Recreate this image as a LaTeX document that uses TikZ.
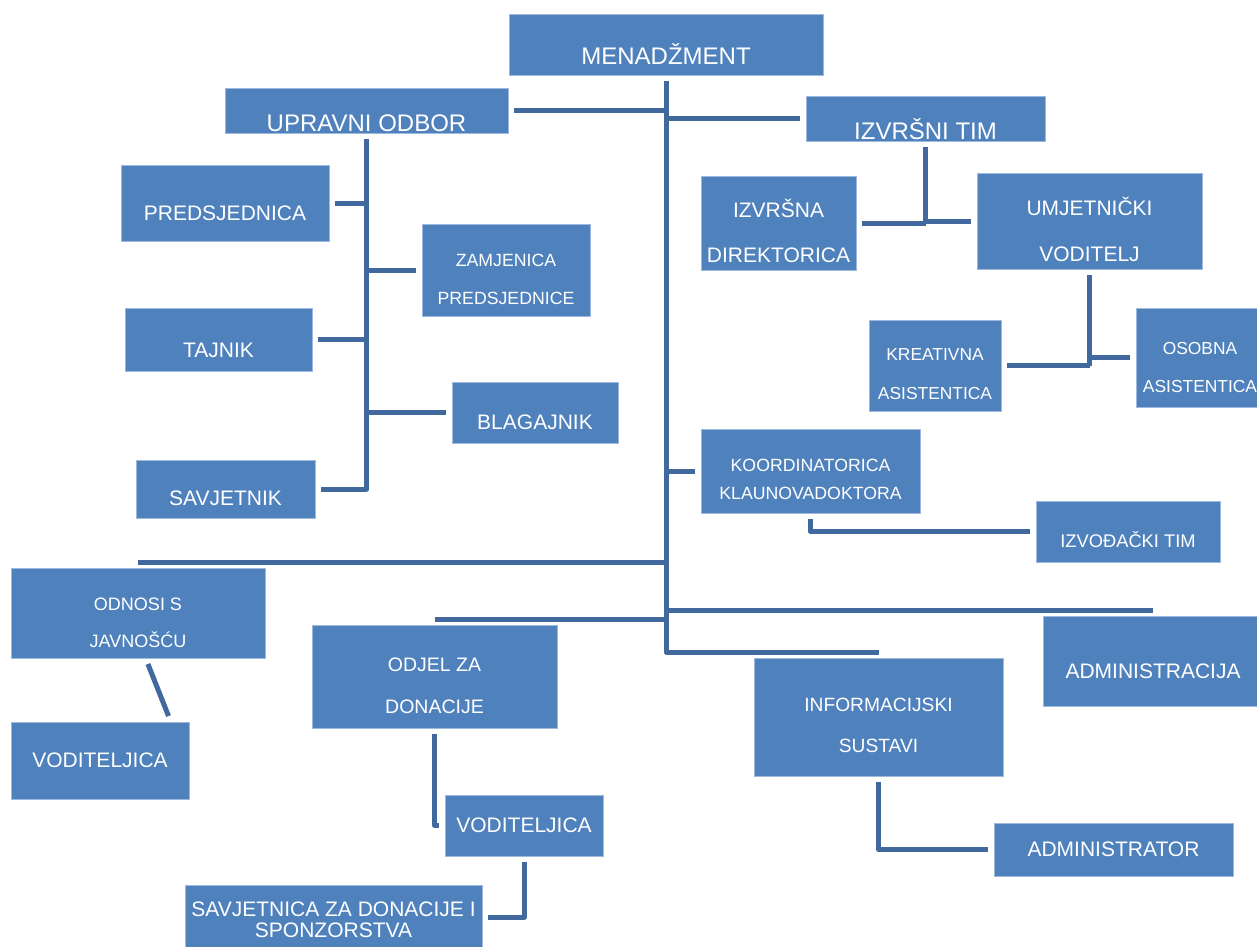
\documentclass[tikz,border=0pt]{standalone}
\usepackage{fontspec}
\setmainfont{Liberation Sans}
\definecolor{boxfill}{HTML}{4F81BD}
\definecolor{boxedge}{HTML}{9DB9DE}
\definecolor{linkcol}{HTML}{41699D}
\begin{document}
\begin{tikzpicture}[x=1pt,y=1pt,yscale=-1,
  box/.style={draw=boxedge,fill=boxfill,line width=0.8pt,text=white,align=center,inner sep=1pt,outer sep=6pt},
  fs/.style 2 args={font=\fontsize{#1}{#2}\selectfont},
  link/.style={draw=linkcol,line width=5pt,line join=round}]
\useasboundingbox (0,0) rectangle (1257,946);

% Boxes
\node (menad) at (666,44.5) [box,fs={24}{28},text height=40.2pt,minimum width=314pt,minimum height=61pt] {MENADŽMENT};
\node (upravni) at (366.5,110.5) [box,fs={24}{28},text height=42.2pt,minimum width=283pt,minimum height=45pt] {UPRAVNI ODBOR};
\node (izvtim) at (925.5,118.5) [box,fs={24}{28},text height=42.2pt,minimum width=239pt,minimum height=45pt] {IZVRŠNI TIM};
\node (predsj) at (225,203) [box,fs={21}{25},text height=35pt,minimum width=208pt,minimum height=76pt] {PREDSJEDNICA};
\node (zamj) at (506,270) [box,fs={17.7}{38},text height=68.7pt,minimum width=168pt,minimum height=92pt] {ZAMJENICA\\PREDSJEDNICE};
\node (tajnik) at (218.5,339.5) [box,fs={21}{25},text height=36pt,minimum width=187pt,minimum height=63pt] {TAJNIK};
\node (blag) at (535,412.5) [box,fs={21}{25},text height=34pt,minimum width=166pt,minimum height=61pt] {BLAGAJNIK};
\node (savjet) at (225.5,489) [box,fs={21}{25},text height=33pt,minimum width=179pt,minimum height=58pt] {SAVJETNIK};
\node (izvdir) at (778.5,223) [box,fs={21}{45},text height=80pt,minimum width=155pt,minimum height=94pt] {IZVRŠNA\\DIREKTORICA};
\node (umjet) at (1089.5,221) [box,fs={21}{46},text height=81pt,minimum width=225pt,minimum height=96pt] {UMJETNIČKI\\VODITELJ};
\node (kreat) at (935,365.5) [box,fs={17.4}{39},text height=67.5pt,minimum width=132pt,minimum height=91pt] {KREATIVNA\\ASISTENTICA};
\node (osobna) at (1200,357.5) [box,fs={17.4}{38},text height=69.5pt,minimum width=128pt,minimum height=99pt] {OSOBNA\\ASISTENTICA};
\node (koord) at (810.5,471) [box,fs={17.7}{28},text height=56.7pt,minimum width=219pt,minimum height=84pt] {KOORDINATORICA\\KLAUNOVADOKTORA};
\node (izvod) at (1128,531.5) [box,fs={18.3}{22},text height=32.1pt,minimum width=184pt,minimum height=61pt] {IZVOĐAČKI TIM};
\node (odnosi) at (138,613) [box,fs={18}{37},text height=68.9pt,minimum width=254pt,minimum height=90pt] {ODNOSI S\\JAVNOŠĆU};
\node (vodl) at (100,760.5) [box,fs={21}{25},text height=15pt,minimum width=178pt,minimum height=77pt] {VODITELJICA};
\node (odjel) at (434.5,676.5) [box,fs={19.5}{42},text height=75pt,minimum width=245pt,minimum height=103pt] {ODJEL ZA\\DONACIJE};
\node (admin) at (1153,661) [box,fs={21}{25},text height=35pt,minimum width=220pt,minimum height=90pt] {ADMINISTRACIJA};
\node (info) at (878.5,717) [box,fs={19.2}{41},text height=71.7pt,minimum width=249pt,minimum height=118pt] {INFORMACIJSKI\\SUSTAVI};
\node (vodm) at (524,825.5) [box,fs={21}{25},text height=15pt,minimum width=158pt,minimum height=61pt] {VODITELJICA};
\node (savjd) at (333.5,917) [box,fs={21}{21},text height=41pt,minimum width=297pt,minimum height=64pt] {SAVJETNICA ZA DONACIJE I\\SPONZORSTVA};
\node (admtor) at (1113.5,849.5) [box,fs={21}{25},text height=15pt,minimum width=239pt,minimum height=53pt] {ADMINISTRATOR};

% Main trunk
\draw[link] (menad.south) |- (info.north);
\draw[link] (upravni.east) -- (upravni.east -| menad.south);
\draw[link] (izvtim.west) -- (izvtim.west -| menad.south);
\draw[link] (koord.west) -- (koord.west -| menad.south);
\draw[link] (odnosi.north) -- (odnosi.north -| menad.south);
\draw[link] (odjel.north) -- (odjel.north -| menad.south);
\draw[link] (admin.north) -- (admin.north -| menad.south);

% Upravni odbor
\draw[link] (upravni.south) |- (savjet.east);
\foreach \n in {predsj,tajnik}
  \draw[link] (\n.east) -- (\n.east -| upravni.south);
\foreach \n in {zamj,blag}
  \draw[link] (\n.west) -- (\n.west -| upravni.south);

% Izvrsni tim
\draw[link] (izvtim.south) -- (izvtim.south |- izvdir.east);
\draw[link] (izvdir.east) -- (izvtim.south |- izvdir.east);
\draw[link] (umjet.west) -- (izvtim.south |- umjet.west);
\draw[link] (umjet.south) -- (umjet.south |- kreat.east);
\draw[link] (kreat.east) -- (umjet.south |- kreat.east);
\draw[link] (osobna.west) -- (umjet.south |- osobna.west);
\draw[link] (koord.south) |- (izvod.west);

% Lower part
\draw[link] (odnosi.281) -- (vodl.33);
\draw[link] (odjel.south) |- (vodm.west);
\draw[link] (vodm.south) |- (savjd.east);
\draw[link] (info.south) |- (admtor.west);

\end{tikzpicture}
\end{document}
